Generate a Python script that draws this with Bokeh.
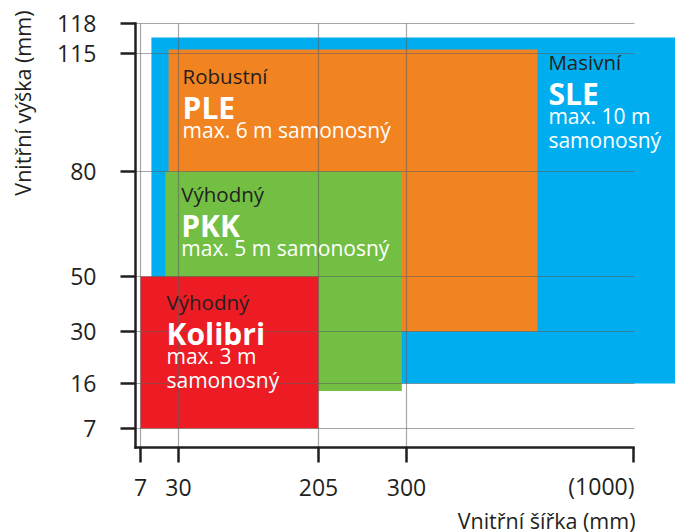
import numpy as np
from bokeh.plotting import figure
from bokeh.models import ColumnDataSource, FixedTicker, Label
from bokeh.core.properties import value
from bokeh.embed import file_html
from bokeh.resources import INLINE

# ---------------- data (values in mm) ----------------
products = ["SLE", "PLE", "PKK", "Kolibri"]
categories = ["Masivní", "Robustní", "Výhodný", "Výhodný"]
desc_line1 = ["max. 10 m", "max. 6 m samonosný", "max. 5 m samonosný", "max. 3 m"]
desc_line2 = ["samonosný", "", "", "samonosný"]
width_min = [13.6, 24, 22, 7]
width_max = [1150, 704, 295, 205]
height_min = [16, 30, 14.5, 7]
height_max = [116.6, 115.4, 80, 50]

x_ticks = [7, 30, 205, 300, 1000]
x_tick_labels = ["7", "30", "205", "300", "(1000)"]
y_ticks = [7, 16, 30, 50, 80, 115, 118]
y_tick_labels = ["7", "16", "30", "50", "80", "115", "118"]
x_title = "Vnitřní šířka (mm)"
y_title = "Vnitřní výška (mm)"

# ---------------- layout / style ----------------
W, H = 675, 532
colors = ["#00aeef", "#f28321", "#72bf44", "#ed1c24"]
# schematic (non-linear) axes: pixel position of each tick
x_tick_px = [140, 178, 318, 406, 633]
y_tick_px = [104, 149, 201, 256, 361, 479, 509]
X_AXIS_AT = 85      # px from bottom
Y_AXIS_AT = 135     # px from left
# text block offsets from the top-left corner of each box (px)
text_dx = [397, 14, 16, 26]
text_dy = [24, 26, 22, 25]
line_offsets = [0, 31.5, 54.5, 78]

FONT = "Open Sans"
DARK = "#231f20"


def to_px(vals, ticks, px):
    t = np.asarray(ticks, float)
    q = np.asarray(px, float)
    v = np.asarray(vals, float)
    out = np.interp(v, t, q)
    hi = v > t[-1]
    out[hi] = q[-1] + (v[hi] - t[-1]) * (q[-1] - q[-2]) / (t[-1] - t[-2])
    lo = v < t[0]
    out[lo] = q[0] + (v[lo] - t[0]) * (q[1] - q[0]) / (t[1] - t[0])
    return out


left = to_px(width_min, x_ticks, x_tick_px)
right = to_px(width_max, x_ticks, x_tick_px)
bottom = to_px(height_min, y_ticks, y_tick_px)
top = to_px(height_max, y_ticks, y_tick_px)

p = figure(width=W, height=H, x_range=(0, W), y_range=(0, H),
           output_backend="svg", toolbar_location=None,
           min_border=0, min_border_left=0, min_border_right=0,
           min_border_top=0, min_border_bottom=0)
p.outline_line_color = None
p.xgrid.visible = False
p.ygrid.visible = False
p.background_fill_color = "white"
p.border_fill_color = "white"

src = ColumnDataSource(dict(left=left, right=right, bottom=bottom, top=top, color=colors))
p.quad(left="left", right="right", bottom="bottom", top="top", fill_color="color",
       line_color=None, source=src)

# grid lines (drawn above the boxes)
grid_col = "#5e5e5e"
x_end = x_tick_px[-1] + 1
p.segment(x0=[Y_AXIS_AT] * len(y_tick_px), x1=[x_end] * len(y_tick_px),
          y0=y_tick_px, y1=y_tick_px, line_color=grid_col, line_alpha=0.55, line_width=1.2)
xg = x_tick_px[:-1]
p.segment(x0=xg, x1=xg, y0=[X_AXIS_AT] * len(xg), y1=[y_tick_px[-1]] * len(xg),
          line_color=grid_col, line_alpha=0.55, line_width=1.2)

# texts in the boxes
tx = left + np.array(text_dx)
ty0 = top - np.array(text_dy)
p.text(x=tx, y=ty0 - line_offsets[0], text=categories, text_font=value(FONT),
       text_font_size="20.5px", text_color=DARK, text_baseline="alphabetic", text_align="left")
p.text(x=tx, y=ty0 - line_offsets[1], text=products, text_font=value(FONT),
       text_font_size="30px", text_font_style="bold", text_color="white",
       text_baseline="alphabetic", text_align="left")
p.text(x=tx, y=ty0 - line_offsets[2], text=desc_line1, text_font=value(FONT),
       text_font_size="21px", text_color="white", text_baseline="alphabetic", text_align="left")
p.text(x=tx, y=ty0 - line_offsets[3], text=desc_line2, text_font=value(FONT),
       text_font_size="21px", text_color="white", text_baseline="alphabetic", text_align="left")

# axes
for ax in (p.xaxis[0], p.yaxis[0]):
    ax.axis_line_color = DARK
    ax.axis_line_width = 2.5
    ax.axis_line_cap = "square"
    ax.major_tick_line_color = DARK
    ax.major_tick_line_width = 2.5
    ax.major_tick_in = 0
    ax.major_tick_out = 15
    ax.minor_tick_line_color = None
    ax.major_label_text_font = FONT
    ax.major_label_text_font_size = "23px"
    ax.major_label_text_color = DARK

xa = p.xaxis[0]
xa.fixed_location = X_AXIS_AT
xa.ticker = FixedTicker(ticks=x_tick_px)
xa.major_label_overrides = {k: (v if i < len(x_tick_px) - 1 else "")
                            for i, (k, v) in enumerate(zip(x_tick_px, x_tick_labels))}
xa.bounds = (Y_AXIS_AT, x_tick_px[-1])
xa.major_label_standoff = 16

ya = p.yaxis[0]
ya.fixed_location = Y_AXIS_AT
ya.ticker = FixedTicker(ticks=y_tick_px)
ya.major_label_overrides = dict(zip(y_tick_px, y_tick_labels))
ya.bounds = (X_AXIS_AT, y_tick_px[-1])
ya.major_label_standoff = 24

p.add_layout(Label(x=x_tick_px[-1] + 1, y=46.5, text=x_tick_labels[-1], text_align="right",
                   text_baseline="alphabetic", text_font=FONT, text_font_size="23px",
                   text_color=DARK))
p.add_layout(Label(x=635, y=12, text=x_title, text_align="right",
                   text_baseline="alphabetic", text_font=FONT, text_font_size="21.5px",
                   text_color=DARK))
p.add_layout(Label(x=21.5, y=522, text=y_title, text_align="right",
                   text_baseline="alphabetic", angle=np.pi / 2, text_font=FONT,
                   text_font_size="21.5px", text_color=DARK))

open("out.html", "w").write(file_html(p, INLINE))
